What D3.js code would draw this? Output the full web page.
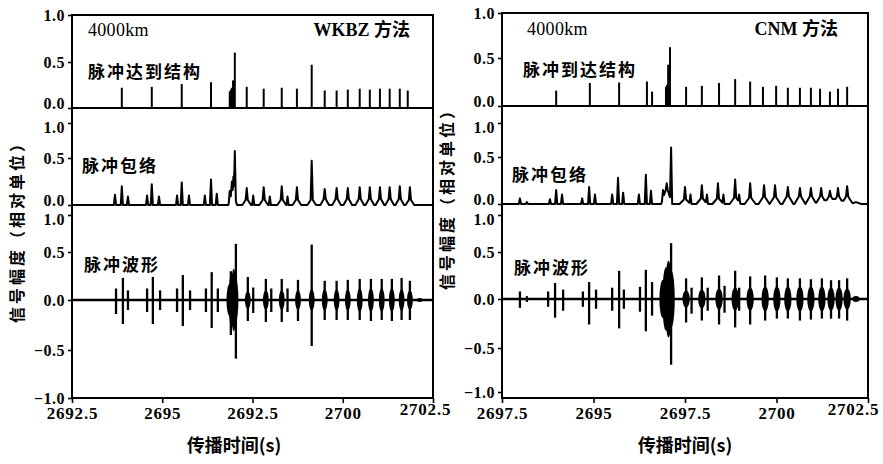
<!DOCTYPE html>
<html><head><meta charset="utf-8">
<script src="https://cdn.jsdelivr.net/npm/d3@7"></script>
<style>body{margin:0;background:#fff}</style>
</head><body>
<script>
// ---------- data ----------
const timeDomain = [2692.5, 2702.5];
const tickValues = [2692.5, 2695, 2697.5, 2700, 2702.5];
const wkbzTickLabels = ["2692.5", "2695", "2692.5", "2700", "2702.5"];
const cnmTickLabels = ["2697.5", "2695", "2697.5", "2700", "2702.5"];
const yTicksPos = [0, 0.5, 1.0];
const yTicksFull = [-1.0, -0.5, 0, 0.5, 1.0];

// WKBZ (left) – pulse arrival structure
const wkbzArrivalT = [2693.88, 2694.71, 2695.54, 2696.35, 2696.87, 2696.90, 2696.93, 2696.96, 2697.01, 2697.34, 2697.81, 2698.31, 2698.73, 2699.14, 2699.50, 2699.83, 2700.14, 2700.47, 2700.75, 2701.03, 2701.30, 2701.58, 2701.80];
const wkbzArrivalA = [0.22, 0.23, 0.26, 0.28, 0.18, 0.20, 0.22, 0.30, 0.60, 0.23, 0.21, 0.22, 0.21, 0.47, 0.19, 0.19, 0.20, 0.21, 0.20, 0.21, 0.21, 0.21, 0.19];
// WKBZ – envelope
const wkbzEnvPeakT = [2693.69, 2693.88, 2694.05, 2694.58, 2694.71, 2694.91, 2695.41, 2695.54, 2695.74, 2696.18, 2696.35, 2696.51, 2696.87, 2696.93, 2696.97, 2697.01, 2697.34, 2697.52, 2697.81, 2697.98, 2698.31, 2698.47, 2698.73, 2699.14, 2699.50, 2699.83, 2700.14, 2700.47, 2700.75, 2701.03, 2701.30, 2701.58, 2701.86];
const wkbzEnvPeakA = [0.11, 0.20, 0.09, 0.10, 0.22, 0.09, 0.10, 0.24, 0.10, 0.10, 0.27, 0.12, 0.15, 0.25, 0.30, 0.60, 0.18, 0.10, 0.19, 0.09, 0.20, 0.09, 0.19, 0.47, 0.17, 0.18, 0.18, 0.19, 0.19, 0.19, 0.19, 0.20, 0.19];
const wkbzEnvHumpT = [2696.95, 2697.34, 2697.81, 2698.31, 2698.73, 2699.14, 2699.50, 2699.83, 2700.14, 2700.47, 2700.75, 2701.03, 2701.30, 2701.58, 2701.86];
const wkbzEnvHumpA = [0.16, 0.07, 0.07, 0.07, 0.07, 0.07, 0.08, 0.08, 0.08, 0.08, 0.08, 0.08, 0.08, 0.08, 0.07];
// WKBZ – waveform
const wkbzWaveT = [2693.72, 2693.91, 2694.05, 2694.58, 2694.74, 2694.94, 2695.41, 2695.57, 2695.77, 2696.21, 2696.37, 2696.54, 2696.90, 2697.04, 2697.37, 2697.52, 2697.87, 2698.02, 2698.31, 2698.47, 2698.76, 2699.14, 2699.50, 2699.83, 2700.14, 2700.47, 2700.78, 2701.08, 2701.36, 2701.63, 2701.86];
const wkbzWaveTop = [0.12, 0.23, 0.10, 0.12, 0.24, 0.10, 0.12, 0.26, 0.10, 0.12, 0.29, 0.12, 0.30, 0.61, 0.24, 0.13, 0.22, 0.12, 0.22, 0.12, 0.21, 0.60, 0.20, 0.20, 0.21, 0.22, 0.22, 0.22, 0.22, 0.23, 0.20];
const wkbzWaveBot = [-0.14, -0.24, -0.10, -0.12, -0.24, -0.10, -0.12, -0.26, -0.10, -0.12, -0.28, -0.12, -0.35, -0.59, -0.21, -0.13, -0.22, -0.12, -0.22, -0.12, -0.21, -0.46, -0.20, -0.20, -0.20, -0.20, -0.21, -0.20, -0.21, -0.20, -0.20];
const wkbzBodyT = [2696.86, 2696.92, 2696.98, 2697.03, 2697.37, 2697.87, 2698.31, 2698.76, 2699.14, 2699.50, 2699.83, 2700.14, 2700.47, 2700.78, 2701.08, 2701.36, 2701.63, 2701.86, 2702.13];
const wkbzBodyA = [0.16, 0.28, 0.32, 0.22, 0.09, 0.10, 0.10, 0.10, 0.11, 0.11, 0.11, 0.11, 0.12, 0.12, 0.12, 0.12, 0.11, 0.10, 0.02];

// CNM (right) – pulse arrival structure
const cnmArrivalT = [2693.98, 2694.90, 2695.70, 2696.46, 2696.60, 2696.98, 2697.01, 2697.04, 2697.09, 2697.53, 2697.96, 2698.43, 2698.87, 2699.28, 2699.63, 2699.99, 2700.31, 2700.64, 2700.94, 2701.19, 2701.46, 2701.68, 2701.93];
const cnmArrivalA = [0.16, 0.24, 0.245, 0.255, 0.15, 0.20, 0.22, 0.43, 0.62, 0.20, 0.21, 0.24, 0.28, 0.255, 0.20, 0.21, 0.19, 0.19, 0.19, 0.18, 0.15, 0.18, 0.20];
// CNM – envelope
const cnmEnvPeakT = [2692.99, 2693.18, 2693.81, 2693.98, 2694.14, 2694.69, 2694.88, 2695.04, 2695.51, 2695.67, 2695.81, 2696.24, 2696.43, 2696.57, 2696.90, 2697.00, 2697.12, 2697.50, 2697.65, 2697.96, 2698.10, 2698.40, 2698.55, 2698.87, 2698.98, 2699.28, 2699.66, 2699.96, 2700.31, 2700.64, 2700.94, 2701.22, 2701.46, 2701.68, 2701.93];
const cnmEnvPeakA = [0.06, 0.02, 0.05, 0.15, 0.10, 0.06, 0.18, 0.10, 0.10, 0.28, 0.12, 0.10, 0.31, 0.14, 0.15, 0.22, 0.64, 0.18, 0.10, 0.20, 0.10, 0.22, 0.10, 0.26, 0.10, 0.22, 0.20, 0.20, 0.18, 0.17, 0.17, 0.17, 0.14, 0.17, 0.19];
const cnmEnvHumpT = [2697.00, 2697.50, 2697.96, 2698.40, 2698.87, 2699.28, 2699.66, 2699.96, 2700.31, 2700.64, 2700.94, 2701.22, 2701.46, 2701.68, 2701.93, 2702.17];
const cnmEnvHumpA = [0.18, 0.06, 0.07, 0.07, 0.08, 0.08, 0.09, 0.09, 0.10, 0.10, 0.10, 0.10, 0.10, 0.10, 0.10, 0.02];
// CNM – waveform
const cnmWaveT = [2692.99, 2693.18, 2693.76, 2693.95, 2694.17, 2694.71, 2694.88, 2695.07, 2695.51, 2695.70, 2695.83, 2696.27, 2696.43, 2696.60, 2697.12, 2697.53, 2697.68, 2697.96, 2698.12, 2698.43, 2698.58, 2698.87, 2698.98, 2699.28, 2699.69, 2700.01, 2700.31, 2700.64, 2700.94, 2701.24, 2701.49, 2701.71, 2701.93];
const cnmWaveTop = [0.08, 0.03, 0.08, 0.17, 0.10, 0.08, 0.18, 0.10, 0.12, 0.30, 0.10, 0.13, 0.31, 0.18, 0.62, 0.22, 0.12, 0.23, 0.12, 0.25, 0.14, 0.30, 0.12, 0.24, 0.25, 0.23, 0.22, 0.22, 0.21, 0.22, 0.20, 0.20, 0.22];
const cnmWaveBot = [-0.09, -0.03, -0.08, -0.19, -0.12, -0.08, -0.26, -0.10, -0.12, -0.30, -0.10, -0.13, -0.33, -0.17, -0.69, -0.24, -0.15, -0.22, -0.12, -0.26, -0.14, -0.29, -0.12, -0.26, -0.22, -0.20, -0.20, -0.22, -0.21, -0.20, -0.20, -0.20, -0.22];
const cnmBodyT = [2696.90, 2696.98, 2697.05, 2697.12, 2697.53, 2697.96, 2698.43, 2698.87, 2699.28, 2699.69, 2700.01, 2700.31, 2700.64, 2700.94, 2701.24, 2701.49, 2701.71, 2701.93, 2702.17];
const cnmBodyA = [0.20, 0.33, 0.40, 0.30, 0.09, 0.10, 0.11, 0.12, 0.12, 0.13, 0.13, 0.13, 0.13, 0.13, 0.13, 0.12, 0.12, 0.11, 0.03];

// ---------- drawing ----------
const W = 883, H = 464;
const svg = d3.select("body").append("svg").attr("width", W).attr("height", H)
  .attr("viewBox", `0 0 ${W} ${H}`);
svg.append("rect").attr("width", W).attr("height", H).attr("fill", "#fff");

const NUM_FONT = "'Liberation Serif', 'DejaVu Serif', serif";
const CJK_FONT = "'Noto Sans CJK SC', 'Noto Sans', sans-serif";

function zip(a, b, c) { return a.map((v, i) => c ? [v, b[i], c[i]] : [v, b[i]]); }

function drawPanel(cfg, d) {
  const g = svg.append("g");
  const x = d3.scaleLinear().domain(timeDomain).range([cfg.x0, cfg.x1]);
  const y1 = d3.scaleLinear().domain([0, 0.5, 1]).range(cfg.r1);
  const y2 = d3.scaleLinear().domain([0, 0.5, 1]).range(cfg.r2);
  const y3 = d3.scaleLinear().domain([-1, -0.5, 0, 0.5, 1]).range(cfg.r3);

  // row 1: arrival sticks
  g.append("line").attr("x1", cfg.x0).attr("x2", cfg.x1).attr("y1", y1(0)).attr("y2", y1(0))
    .attr("stroke", "#000").attr("stroke-width", 2.2);
  g.selectAll(".stick").data(zip(d.arrT, d.arrA)).join("line")
    .attr("x1", v => x(v[0])).attr("x2", v => x(v[0]))
    .attr("y1", y1(0)).attr("y2", v => y1(v[1]))
    .attr("stroke", "#000").attr("stroke-width", 2);

  // row 2: envelope (max of sharp peaks and broader humps)
  const shapes = zip(d.envPT, d.envPA).map(v => ({t: v[0], a: v[1], hw: cfg.peakHW}))
    .concat(zip(d.envHT, d.envHA).map(v => ({t: v[0], a: v[1], hw: cfg.humpHW})));
  let ts = [timeDomain[0], timeDomain[1]];
  shapes.forEach(s => ts.push(s.t - s.hw, s.t, s.t + s.hw));
  ts = ts.filter(t => t >= timeDomain[0] && t <= timeDomain[1]).sort((a, b) => a - b);
  const envVal = t => d3.max(shapes, s => Math.max(0, s.a * (1 - Math.abs(t - s.t) / s.hw))) || 0;
  const envLine = d3.line().x(t => x(t)).y(t => y2(envVal(t)));
  g.append("path").attr("d", envLine(ts)).attr("fill", "none")
    .attr("stroke", "#000").attr("stroke-width", 2).attr("stroke-linejoin", "round");

  // row 3: waveform
  g.append("line").attr("x1", cfg.x0).attr("x2", cfg.x1).attr("y1", y3(0)).attr("y2", y3(0))
    .attr("stroke", "#000").attr("stroke-width", 2.6);
  g.selectAll(".body").data(zip(d.bodyT, d.bodyA)).join("ellipse")
    .attr("cx", v => x(v[0])).attr("rx", v => x(v[0] + cfg.bodyHW) - x(v[0]))
    .attr("cy", y3(0)).attr("ry", v => (y3(-v[1]) - y3(v[1])) / 2)
    .attr("fill", "#000");
  g.selectAll(".seg").data(zip(d.wT, d.wTop, d.wBot)).join("line")
    .attr("x1", v => x(v[0])).attr("x2", v => x(v[0]))
    .attr("y1", v => y3(v[1])).attr("y2", v => y3(v[2]))
    .attr("stroke", "#000").attr("stroke-width", 2.3);

  // frame
  g.append("rect").attr("x", cfg.x0).attr("y", cfg.top).attr("width", cfg.x1 - cfg.x0)
    .attr("height", cfg.bottom - cfg.top).attr("fill", "none").attr("stroke", "#000").attr("stroke-width", 2);

  // y axes
  const fmt = d3.format(".1f");
  const rows = [[y1, yTicksPos, 1], [y2, yTicksPos, 2], [y3, yTicksFull, 3]];
  rows.forEach(([sc, tv, r]) => {
    const ax = g.append("g").attr("transform", `translate(${cfg.x0},0)`)
      .call(d3.axisLeft(sc).tickValues(tv).tickFormat(fmt).tickSize(4).tickPadding(3));
    ax.select(".domain").remove();
    ax.selectAll(".tick line").attr("stroke", "#000").attr("stroke-width", 1.6);
    ax.selectAll(".tick text").attr("font-family", NUM_FONT).attr("font-weight", "bold")
      .attr("font-size", 16).attr("fill", "#000").attr("letter-spacing", 0.5)
      .attr("dy", v => (v === 0 && r < 3) ? "0.02em" : (v === 1 && r > 1) ? "0.62em" : "0.32em");
  });

  // x axis
  const xa = g.append("g").attr("transform", `translate(0,${cfg.bottom})`)
    .call(d3.axisBottom(x).tickValues(tickValues).tickFormat((v, i) => d.labels[i]).tickSize(5).tickPadding(4));
  xa.select(".domain").remove();
  xa.selectAll(".tick line").attr("stroke", "#000").attr("stroke-width", 1.6);
  xa.selectAll(".tick text").attr("font-family", NUM_FONT).attr("font-weight", "bold")
    .attr("font-size", 17).attr("fill", "#000").attr("letter-spacing", 0.8)
    .attr("dx", (v, i) => i === tickValues.length - 1 ? cfg.lastDx : 0)
    .attr("dy", (v, i) => i === tickValues.length - 1 ? "0.45em" : "0.71em");

  // titles
  g.append("text").attr("x", cfg.xtX).attr("y", 452).attr("text-anchor", "middle")
    .attr("font-family", CJK_FONT).attr("font-weight", "bold").attr("font-size", 18)
    .text("传播时间(s)");
  g.append("text").attr("transform", `translate(${cfg.ytX},${cfg.ytY}) rotate(-90)`)
    .attr("text-anchor", "middle").attr("dy", "0.35em")
    .attr("font-family", CJK_FONT).attr("font-weight", "bold").attr("font-size", 16)
    .attr("letter-spacing", 3).text("信号幅度（相对单位）");

  // annotations
  g.append("text").attr("x", cfg.kmX).attr("y", cfg.kmY).attr("font-family", NUM_FONT)
    .attr("font-size", 18).attr("font-weight", "normal").attr("letter-spacing", 0.3).text("4000km");
  g.append("text").attr("x", cfg.mX).attr("y", cfg.kmY).attr("text-anchor", "end")
    .attr("font-family", `${NUM_FONT}, ${CJK_FONT}`).attr("font-weight", "bold").attr("font-size", 18)
    .text(d.method);
  const lab = (txt, px, py) => g.append("text").attr("x", px).attr("y", py)
    .attr("font-family", CJK_FONT).attr("font-weight", "bold").attr("font-size", 17)
    .attr("letter-spacing", 2).text(txt);
  lab(d.arrLabel, cfg.l1[0], cfg.l1[1]);
  lab("脉冲包络", cfg.l2[0], cfg.l2[1]);
  lab("脉冲波形", cfg.l3[0], cfg.l3[1]);
}

drawPanel({
  x0: 72, x1: 433, top: 15, bottom: 398,
  r1: [108, 62, 15], r2: [205, 158, 123], r3: [398, 350, 300, 252, 215],
  peakHW: 0.03, humpHW: 0.12, bodyHW: 0.08, lastDx: -8,
  ytX: 17, ytY: 228, xtX: 234, kmX: 88, kmY: 36, mX: 410,
  l1: [88, 78], l2: [82, 172], l3: [84, 271]
}, {
  arrT: wkbzArrivalT, arrA: wkbzArrivalA,
  envPT: wkbzEnvPeakT, envPA: wkbzEnvPeakA, envHT: wkbzEnvHumpT, envHA: wkbzEnvHumpA,
  wT: wkbzWaveT, wTop: wkbzWaveTop, wBot: wkbzWaveBot, bodyT: wkbzBodyT, bodyA: wkbzBodyA,
  labels: wkbzTickLabels, method: "WKBZ 方法", arrLabel: "脉冲达到结构"
});

drawPanel({
  x0: 502, x1: 868, top: 13, bottom: 398,
  r1: [106, 58, 13], r2: [204, 157, 123], r3: [392, 348, 299, 252, 215],
  peakHW: 0.03, humpHW: 0.15, bodyHW: 0.1, lastDx: -15,
  ytX: 447, ytY: 195, xtX: 685, kmX: 527, kmY: 35, mX: 838,
  l1: [523, 76], l2: [512, 181], l3: [514, 274]
}, {
  arrT: cnmArrivalT, arrA: cnmArrivalA,
  envPT: cnmEnvPeakT, envPA: cnmEnvPeakA, envHT: cnmEnvHumpT, envHA: cnmEnvHumpA,
  wT: cnmWaveT, wTop: cnmWaveTop, wBot: cnmWaveBot, bodyT: cnmBodyT, bodyA: cnmBodyA,
  labels: cnmTickLabels, method: "CNM 方法", arrLabel: "脉冲到达结构"
});
</script>
</body></html>
